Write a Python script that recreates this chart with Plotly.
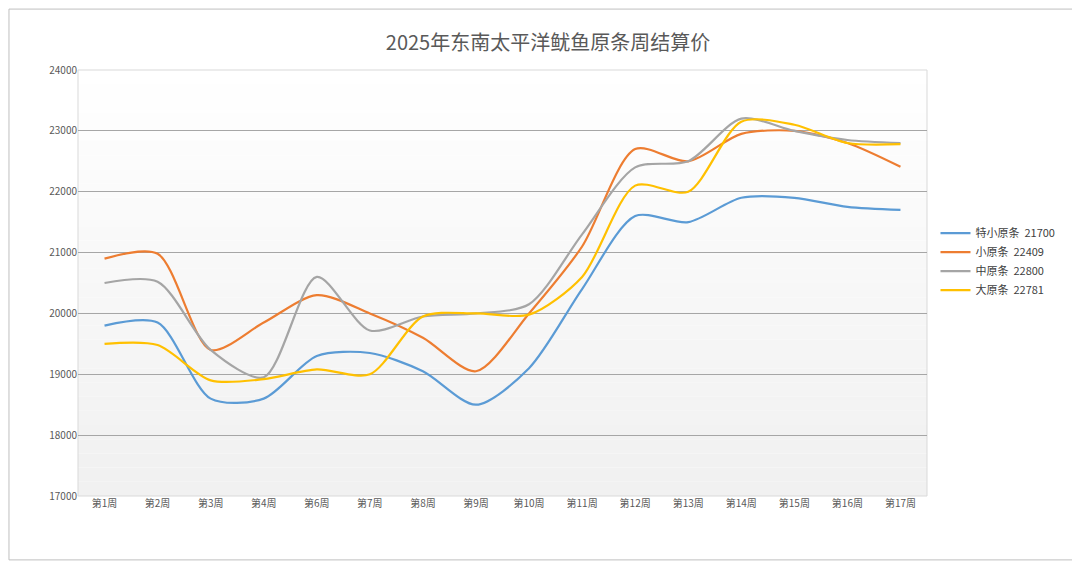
import plotly.graph_objects as go

weeks = ["第1周", "第2周", "第3周", "第4周", "第6周", "第7周", "第8周", "第9周",
         "第10周", "第11周", "第12周", "第13周", "第14周", "第15周", "第16周", "第17周"]

te_xiao = [19800, 19850, 18600, 18600, 19300, 19350, 19050, 18500, 19100, 20400,
           21600, 21500, 21900, 21900, 21750, 21700]
xiao = [20900, 20980, 19400, 19850, 20300, 20000, 19600, 19050, 20000, 21100,
        22700, 22500, 22950, 23000, 22800, 22409]
zhong = [20500, 20520, 19400, 18950, 20600, 19720, 19950, 20000, 20150, 21300,
         22400, 22500, 23200, 23000, 22850, 22800]
da = [19500, 19480, 18900, 18920, 19080, 19000, 19950, 20000, 19980, 20600,
      22100, 22000, 23150, 23100, 22800, 22781]

series = [
    ("特小原条", "21700", te_xiao, "#5B9BD5"),
    ("小原条", "22409", xiao, "#ED7D31"),
    ("中原条", "22800", zhong, "#A5A5A5"),
    ("大原条", "22781", da, "#FFC000"),
]

fig = go.Figure()
for name, last, vals, color in series:
    fig.add_trace(go.Scatter(
        x=weeks, y=vals, mode="lines", name=f"{name}  {last}",
        line=dict(color=color, width=2.2, shape="spline", smoothing=0.8),
    ))

# plot area gradient: white at top to light gray at bottom
shapes = []
n = 30
for i in range(n):
    g = int(255 - 14 * (i / (n - 1)))
    shapes.append(dict(type="rect", xref="x domain", yref="y domain",
                       x0=0, x1=1, y0=1 - (i + 1) / n, y1=1 - i / n,
                       fillcolor=f"rgb({g},{g},{g})", line_width=0, layer="below"))
shapes.append(dict(type="rect", xref="x domain", yref="y domain", x0=0, x1=1, y0=0, y1=1,
                   line=dict(color="#D9D9D9", width=1), layer="below"))
# outer frame
shapes.append(dict(type="rect", xref="paper", yref="paper",
                   x0=-0.0813, x1=1.178, y0=-0.150, y1=1.143,
                   line=dict(color="#BFBFBF", width=1)))

fig.update_layout(
    width=1080, height=561,
    margin=dict(l=70, r=161, t=62, b=73),
    paper_bgcolor="white", plot_bgcolor="rgba(0,0,0,0)",
    font=dict(family="Noto Sans CJK SC", color="#595959", size=10),
    title=dict(text="2025年东南太平洋鱿鱼原条周结算价", x=0.5, xanchor="center",
               y=0.95, font=dict(size=20, color="#595959")),
    shapes=shapes,
    legend=dict(x=1.01, y=0.55, yanchor="middle", xanchor="left",
                bgcolor="rgba(0,0,0,0)", font=dict(size=11, color="#404040"),
                tracegroupgap=8, itemwidth=30),
    showlegend=True,
)
fig.update_xaxes(showgrid=False, showline=False, ticks="", tickfont=dict(size=10),
                 range=[-0.5, len(weeks) - 0.5])
fig.update_yaxes(range=[17000, 24000], dtick=1000, gridcolor="#A6A6A6", gridwidth=1,
                 zeroline=False, showline=False, tickformat="d", tickfont=dict(size=10))

fig.write_html("out.html")
